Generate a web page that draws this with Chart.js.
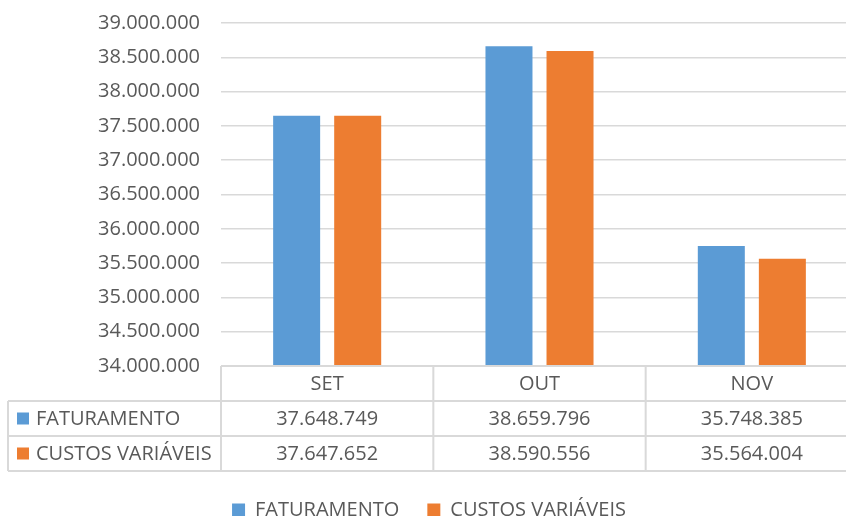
<!DOCTYPE html>
<html>
<head>
<meta charset="utf-8">
<script src="https://cdn.jsdelivr.net/npm/chart.js@4.4.0/dist/chart.umd.min.js"></script>
<style>
    html, body { margin: 0; padding: 0; background: #fff; overflow: hidden; }
    #wrap { width: 858px; height: 516px; }
</style>
</head>
<body>
<div id="wrap"><canvas id="grafico" width="858" height="516"></canvas></div>
<script>
const meses = ['SET', 'OUT', 'NOV'];
const faturamento = [37648749, 38659796, 35748385];
const custosVariaveis = [37647652, 38590556, 35564004];
const nomesSeries = ['FATURAMENTO', 'CUSTOS VARIÁVEIS'];
const coresSeries = ['#5B9BD5', '#ED7D31'];
const eixoMin = 34000000;
const eixoMax = 39000000;
const eixoPasso = 500000;

const corTexto = '#595959';
const corLinha = '#d9d9d9';
const fonteNum = '20px "Open Sans"';
const fonteRotulo = '20px "Open Sans"';

// Formatar com separador de milhar "."
function formatar(v) {
    return Math.round(v).toString().replace(/\B(?=(\d{3})+(?!\d))/g, '.');
}

// Tabela de dados abaixo do gráfico
const tabelaDados = {
    id: 'tabelaDados',
    afterDraw(chart) {
        const ctx = chart.ctx;
        const x = chart.scales.x;
        const area = chart.chartArea;
        const topo = area.bottom;
        const h = 35;
        const esq = 8;
        const meia = (x.getPixelForValue(1) - x.getPixelForValue(0)) / 2;
        const valores = [faturamento, custosVariaveis];

        ctx.save();
        ctx.strokeStyle = corLinha;
        ctx.lineWidth = 2;
        ctx.beginPath();
        ctx.moveTo(area.left, topo);
        ctx.lineTo(area.right, topo);
        for (let r = 1; r <= 3; r++) {
            ctx.moveTo(esq, topo + h * r);
            ctx.lineTo(area.right, topo + h * r);
        }
        ctx.moveTo(esq, topo + h);
        ctx.lineTo(esq, topo + h * 3);
        meses.forEach((m, i) => {
            const bx = x.getPixelForValue(i) - meia;
            ctx.moveTo(bx, topo);
            ctx.lineTo(bx, topo + h * 3);
        });
        ctx.stroke();

        ctx.fillStyle = corTexto;
        ctx.textBaseline = 'middle';
        ctx.textAlign = 'center';
        ctx.font = fonteRotulo;
        meses.forEach((m, i) => {
            ctx.fillText(m, x.getPixelForValue(i), topo + h / 2 + 1);
        });
        ctx.font = fonteNum;
        valores.forEach((serie, r) => {
            serie.forEach((v, i) => {
                ctx.fillText(formatar(v), x.getPixelForValue(i), topo + h * (r + 1) + h / 2 + 1);
            });
        });

        ctx.textAlign = 'left';
        ctx.font = fonteRotulo;
        nomesSeries.forEach((nome, r) => {
            const cy = topo + h * (r + 1) + h / 2;
            ctx.fillStyle = coresSeries[r];
            ctx.fillRect(17, cy - 6, 12, 12);
            ctx.fillStyle = corTexto;
            ctx.fillText(nome, 36, cy + 1);
        });
        ctx.restore();
    }
};

const ctx = document.getElementById('grafico').getContext('2d');
const chart = new Chart(ctx, {
    type: 'bar',
    data: {
        labels: meses,
        datasets: [
            {
                label: nomesSeries[0],
                data: faturamento,
                backgroundColor: coresSeries[0],
                borderWidth: 0
            },
            {
                label: nomesSeries[1],
                data: custosVariaveis,
                backgroundColor: coresSeries[1],
                borderWidth: 0
            }
        ]
    },
    options: {
        responsive: false,
        animation: false,
        layout: {
            padding: { top: 23, bottom: -14, left: 0, right: 0 }
        },
        datasets: {
            bar: {
                categoryPercentage: 0.575,
                barPercentage: 0.77
            }
        },
        plugins: {
            tooltip: { enabled: false },
            legend: {
                position: 'bottom',
                labels: {
                    boxWidth: 13,
                    boxHeight: 13,
                    padding: 28,
                    color: corTexto,
                    font: { family: 'Open Sans', size: 20 }
                }
            }
        },
        scales: {
            x: {
                ticks: { display: false },
                grid: { display: false },
                border: { display: false },
                afterFit(scale) { scale.height = 106; }
            },
            y: {
                min: eixoMin,
                max: eixoMax,
                ticks: {
                    stepSize: eixoPasso,
                    padding: 21,
                    color: corTexto,
                    font: { family: 'Open Sans', size: 20 },
                    callback: v => formatar(v)
                },
                grid: { color: corLinha, lineWidth: 1.5, drawTicks: false },
                border: { display: false },
                afterFit(scale) {
                    scale.width = 221;
                    scale.paddingTop = 0;
                    scale.paddingBottom = 0;
                }
            }
        }
    },
    plugins: [tabelaDados]
});
</script>
</body>
</html>
